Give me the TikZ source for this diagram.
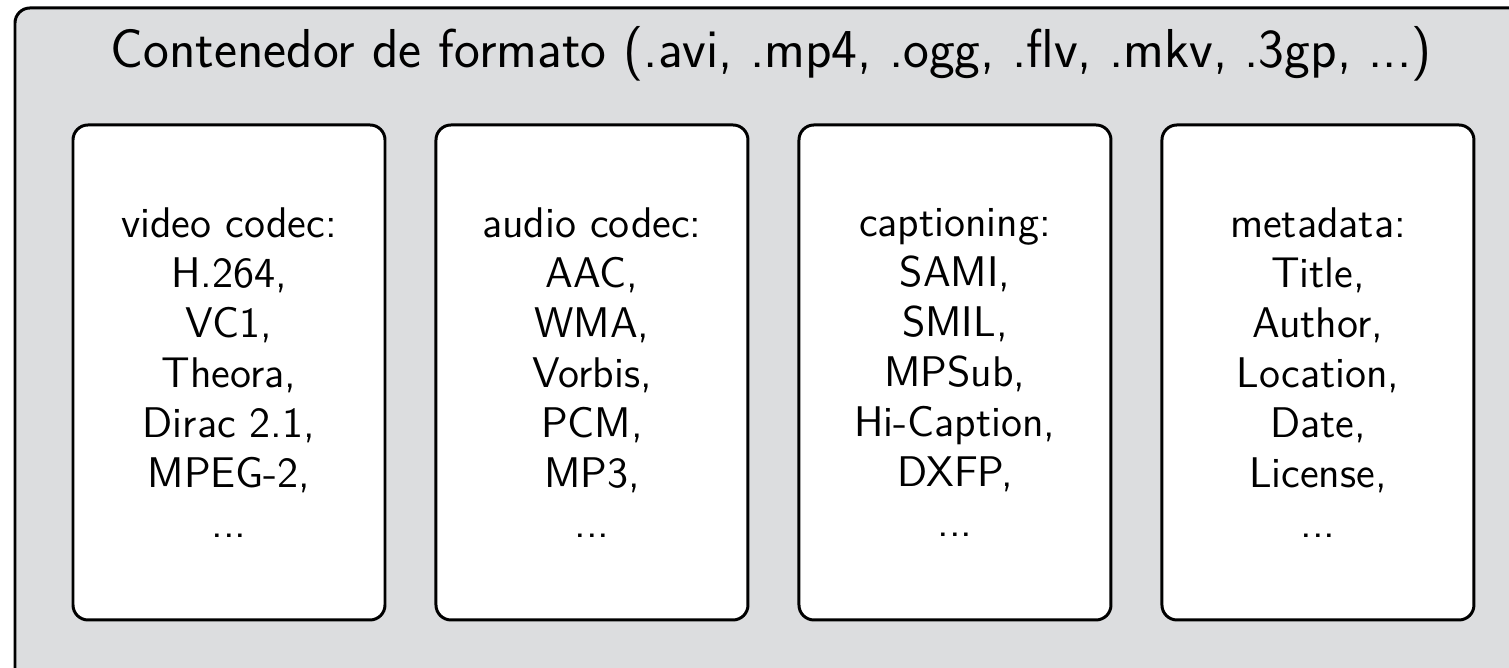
\documentclass[tikz,border=0pt]{standalone}
\usepackage{tikz}
\usetikzlibrary{positioning}
\usepackage{xcolor}
\definecolor{boxgray}{RGB}{220,221,223}

\begin{document}
\begin{tikzpicture}[
  outer/.style={draw, line width=0.85pt, rounded corners=0.15cm, fill=boxgray},
  field/.style={draw, line width=0.85pt, rounded corners=0.15cm, fill=white,
    minimum width=3.12cm, minimum height=4.95cm, align=center,
    font=\sffamily\fontsize{12.2}{14.2}\selectfont}]
  \useasboundingbox (0,0) rectangle (15.09,6.68);
  \clip (0,0) rectangle (15.09,6.68);
  % container background
  \draw[outer] (0.15,-0.3) rectangle (15.4,6.6);
  \node[font=\sffamily\fontsize{15.6}{18}\selectfont, anchor=base] (title) at (7.71,6.0)
    {Contenedor de formato (.avi, .mp4, .ogg, .flv, .mkv, .3gp, ...)};
  % the four streams
  \node[field] (video) at (2.29,2.955)
    {video codec:\\ H.264,\\ VC1,\\ Theora,\\ Dirac 2.1,\\ MPEG-2,\\ ...};
  \node[field, right=0.48cm of video] (audio)
    {audio codec:\\ AAC,\\ WMA,\\ Vorbis,\\ PCM,\\ MP3,\\ ...};
  \node[field, right=0.48cm of audio] (caption)
    {captioning:\\ SAMI,\\ SMIL,\\ MPSub,\\ Hi-Caption,\\ DXFP,\\ ...};
  \node[field, right=0.48cm of caption] (meta)
    {metadata:\\ Title,\\ Author,\\ Location,\\ Date,\\ License,\\ ...};
\end{tikzpicture}
\end{document}
